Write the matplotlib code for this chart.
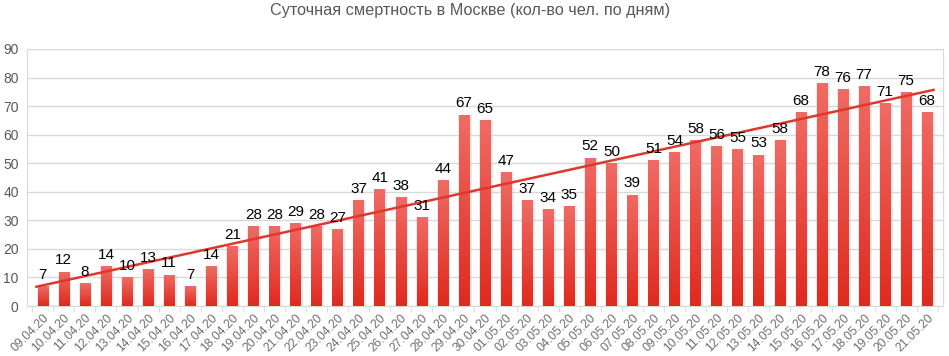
import numpy as np
import matplotlib
matplotlib.use("Agg")
import matplotlib.pyplot as plt
from matplotlib.colors import LinearSegmentedColormap

plt.rcParams['font.family'] = ['Liberation Sans', 'DejaVu Sans']

dates = ["09.04.20","10.04.20","11.04.20","12.04.20","13.04.20","14.04.20","15.04.20","16.04.20",
         "17.04.20","18.04.20","19.04.20","20.04.20","21.04.20","22.04.20","23.04.20","24.04.20",
         "25.04.20","26.04.20","27.04.20","28.04.20","29.04.20","30.04.20","01.05.20","02.05.20",
         "03.05.20","04.05.20","05.05.20","06.05.20","07.05.20","08.05.20","09.05.20","10.05.20",
         "11.05.20","12.05.20","13.05.20","14.05.20","15.05.20","16.05.20","17.05.20","18.05.20",
         "19.05.20","20.05.20","21.05.20"]
deaths = [7, 12, 8, 14, 10, 13, 11, 7, 14, 21, 28, 28, 29, 28, 27, 37, 41, 38, 31, 44, 67, 65,
          47, 37, 34, 35, 52, 50, 39, 51, 54, 58, 56, 55, 53, 58, 68, 78, 76, 77, 71, 75, 68]
title = "Суточная смертность в Москве (кол-во чел. по дням)"

fig = plt.figure(figsize=(9.49, 3.56), dpi=100)
ax = fig.add_axes([27/949, 1-306/356, (943-27)/949, (306-49)/356])

x = np.arange(len(deaths))
bw = 0.5
# soft shadow
ax.bar(x + 0.04, deaths, width=bw + 0.14, color='#b0b0b0', alpha=0.25, zorder=1.5)
bars = ax.bar(x, deaths, width=bw, color='#e8392c', zorder=2)

cmap = LinearSegmentedColormap.from_list('g', ['#e02a1e', '#f06b64'])
grad = np.linspace(0, 1, 100).reshape(-1, 1)
for b in bars:
    bx, by = b.get_x(), b.get_y()
    w, h = b.get_width(), b.get_height()
    im = ax.imshow(grad, cmap=cmap, origin='lower', aspect='auto',
                   extent=[bx, bx + w, by, by + h], zorder=3)
    im.set_clip_path(b)

for xi, v in zip(x, deaths):
    ax.text(xi, v + 1.5, str(v), ha='center', va='bottom', fontsize=11, color='black', zorder=5)

k, c = np.polyfit(x, deaths, 1)
xl = np.array([-0.3, len(deaths) - 0.7])
ax.plot(xl, k * xl + c, color='#e0372c', lw=1.8, zorder=4)

ax.set_xlim(-0.75, len(deaths) - 0.25)
ax.set_ylim(0, 90)
ax.set_yticks(range(0, 91, 10))
ax.yaxis.grid(True, color='#d9d9d9', lw=1, zorder=0)
ax.set_axisbelow(True)
ax.set_xticks(x)
ax.set_xticklabels(dates, rotation=45, ha='right', rotation_mode='anchor', fontsize=8.7, color='#707070')
ax.tick_params(axis='y', labelsize=10, labelcolor='#595959', length=0, pad=6)
ax.set_xticks(np.arange(-0.5, len(deaths), 1), minor=True)
ax.tick_params(axis='x', which='major', length=0, pad=4)
ax.tick_params(axis='x', which='minor', length=4, color='#d9d9d9')
ax.spines['top'].set_visible(False)
ax.spines['left'].set_color('#d9d9d9')
ax.spines['right'].set_color('#d9d9d9')
ax.spines['bottom'].set_color('#d9d9d9')

fig.text(470/949, 1-10/356, title, ha='center', va='center', fontsize=11.7, color='#595959')

fig.savefig("out.png", dpi=100)
